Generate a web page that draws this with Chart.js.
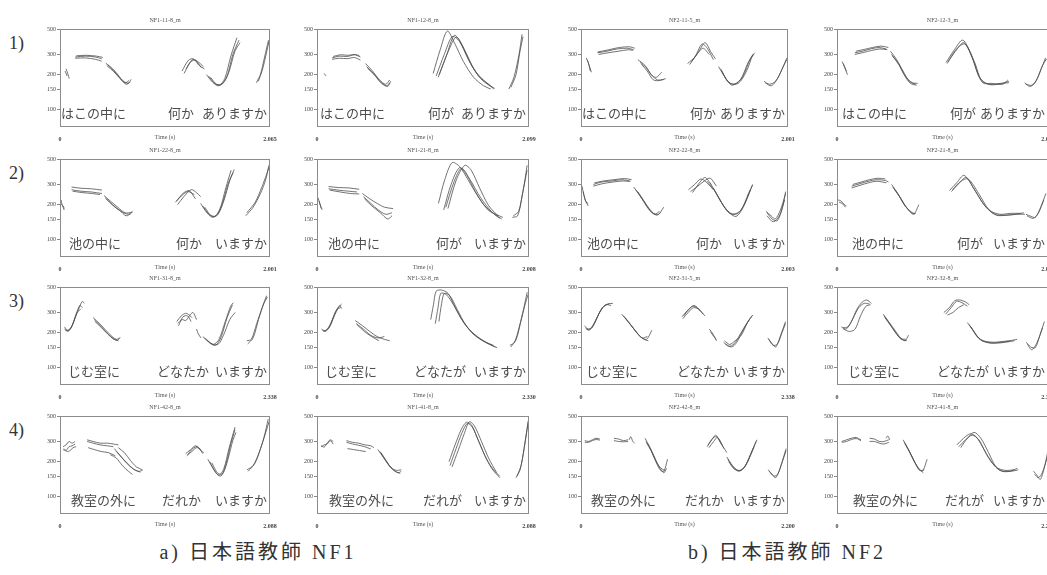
<!DOCTYPE html>
<html>
<head>
<meta charset="utf-8">
<script src="https://cdn.jsdelivr.net/npm/chart.js@4.4.1/dist/chart.umd.min.js"></script>
<style>
  body { margin: 0; width: 1047px; height: 575px; overflow: hidden; background: #fff; position: relative; }
  canvas { position: absolute; }
  .rowlab { position: absolute; left: 9px; font: 18px "Liberation Serif", serif; color: #333; line-height: 20px; }
  .cap { position: absolute; top: 540px; font: 20px "Liberation Serif", "Noto Sans CJK JP", serif; color: #333;
         letter-spacing: 3px; white-space: nowrap; transform: translateX(-50%); line-height: 24px; }
</style>
</head>
<body>
<script>
// ---- data ----
var yTicks = [100, 150, 200, 300, 500];
var rowLabels = ['1)', '2)', '3)', '4)'];
var captions = ['a) 日本語教師 NF1', 'b) 日本語教師 NF2'];

var panelTitles = [
  'NF1-11-8_m', 'NF1-12-8_m', 'NF2-11-5_m', 'NF2-12-3_m',
  'NF1-22-8_m', 'NF1-21-8_m', 'NF2-22-8_m', 'NF2-21-8_m',
  'NF1-31-8_m', 'NF1-32-8_m', 'NF2-31-5_m', 'NF2-32-8_m',
  'NF1-42-8_m', 'NF1-41-8_m', 'NF2-42-8_m', 'NF2-41-8_m'
];
var endTimes = [
  2.065, 2.099, 2.001, 2.013,
  2.001, 2.008, 2.003, 2.010,
  2.338, 2.330, 2.338, 2.330,
  2.088, 2.088, 2.200, 2.200
];
var endLabels = [
  '2.065', '2.099', '2.001', '2.013',
  '2.001', '2.008', '2.003', '2.010',
  '2.338', '2.330', '2.338', '2.330',
  '2.088', '2.088', '2.200', '2.200'
];
var phrases = [
  ['はこの中に', '何か', 'ありますか'], ['はこの中に', '何が', 'ありますか'],
  ['はこの中に', '何か', 'ありますか'], ['はこの中に', '何が', 'ありますか'],
  ['池の中に', '何か', 'いますか'], ['池の中に', '何が', 'いますか'],
  ['池の中に', '何か', 'いますか'], ['池の中に', '何が', 'いますか'],
  ['じむ室に', 'どなたか', 'いますか'], ['じむ室に', 'どなたが', 'いますか'],
  ['じむ室に', 'どなたか', 'いますか'], ['じむ室に', 'どなたが', 'いますか'],
  ['教室の外に', 'だれか', 'いますか'], ['教室の外に', 'だれが', 'いますか'],
  ['教室の外に', 'だれか', 'いますか'], ['教室の外に', 'だれが', 'いますか']
];

// pitch contours: each curve is [time (s), F0 (Hz), time, F0, ...]
var nf1_11 = [
  [0.06,225, 0.08,200, 0.09,185],
  [0.05,215, 0.07,195],
  [0.15,285, 0.25,290, 0.35,285, 0.41,275],
  [0.15,278, 0.25,280, 0.35,272, 0.41,262],
  [0.16,292, 0.26,295, 0.36,290, 0.42,283],
  [0.45,252, 0.52,222, 0.58,192, 0.64,170, 0.68,178],
  [0.46,240, 0.53,212, 0.59,185, 0.65,165, 0.69,172],
  [0.47,245, 0.55,210, 0.61,180, 0.67,168, 0.70,182],
  [1.20,215, 1.26,265, 1.31,275, 1.37,240, 1.42,225],
  [1.22,205, 1.28,255, 1.33,268, 1.39,230],
  [1.24,225, 1.30,270, 1.35,262, 1.41,235],
  [1.44,200, 1.50,172, 1.56,160, 1.62,185, 1.68,290, 1.74,420],
  [1.46,195, 1.52,168, 1.58,162, 1.64,190, 1.70,300, 1.76,400],
  [1.48,190, 1.54,165, 1.60,168, 1.66,210, 1.72,320, 1.77,380],
  [1.93,170, 1.97,200, 2.01,280, 2.05,400],
  [1.95,175, 1.99,220, 2.03,310, 2.055,390]
];
var nf1_12 = [
  [0.07,205, 0.09,195],
  [0.15,280, 0.22,290, 0.30,288, 0.37,298, 0.43,285],
  [0.15,272, 0.22,278, 0.30,276, 0.37,282, 0.43,268],
  [0.16,288, 0.23,298, 0.31,295, 0.38,300, 0.42,292],
  [0.48,250, 0.55,215, 0.62,180, 0.68,165, 0.72,180],
  [0.49,235, 0.56,205, 0.63,172, 0.69,160, 0.72,170],
  [0.50,228, 0.57,198, 0.64,168, 0.70,158, 0.73,175],
  [1.15,205, 1.22,330, 1.29,480, 1.36,380, 1.45,260, 1.55,190, 1.65,160, 1.72,150],
  [1.18,195, 1.26,300, 1.34,430, 1.41,390, 1.50,270, 1.60,195, 1.70,165, 1.75,150],
  [1.20,190, 1.28,290, 1.36,440, 1.43,370, 1.52,250, 1.62,185, 1.72,158, 1.76,152],
  [1.21,200, 1.30,320, 1.38,425, 1.46,330, 1.56,220, 1.66,175, 1.74,155],
  [1.90,150, 1.95,190, 2.00,300, 2.03,450],
  [1.92,155, 1.97,200, 2.01,320, 2.04,430]
];
var nf2_11 = [
  [0.05,280, 0.07,255, 0.09,215],
  [0.06,270, 0.08,240, 0.10,210],
  [0.16,310, 0.25,320, 0.35,335, 0.45,340, 0.51,330],
  [0.17,300, 0.26,310, 0.36,320, 0.46,330, 0.50,325],
  [0.16,315, 0.27,330, 0.37,345, 0.47,350, 0.52,340],
  [0.55,270, 0.62,240, 0.68,200, 0.74,180, 0.80,182],
  [0.57,260, 0.63,230, 0.69,195, 0.73,190, 0.78,210],
  [0.58,250, 0.64,215, 0.70,180, 0.76,178, 0.82,185],
  [1.03,250, 1.10,285, 1.17,370, 1.22,340, 1.28,270],
  [1.05,245, 1.12,300, 1.18,340, 1.24,300],
  [1.07,260, 1.14,320, 1.20,380, 1.26,310, 1.30,275],
  [1.33,235, 1.40,185, 1.46,162, 1.54,180, 1.62,260, 1.67,300],
  [1.35,225, 1.42,175, 1.48,165, 1.56,190, 1.64,280, 1.68,310],
  [1.36,215, 1.43,170, 1.52,168, 1.60,215, 1.66,300],
  [1.77,175, 1.82,165, 1.88,175, 1.94,220, 1.99,280],
  [1.78,170, 1.84,160, 1.90,185, 1.96,240, 1.99,270]
];
var nf2_12 = [
  [0.05,260, 0.07,235, 0.10,200],
  [0.06,250, 0.09,215],
  [0.17,310, 0.24,320, 0.32,335, 0.40,345, 0.47,335],
  [0.17,300, 0.25,312, 0.33,325, 0.41,335, 0.48,330],
  [0.18,320, 0.26,332, 0.34,345, 0.42,355, 0.49,345],
  [0.51,320, 0.57,270, 0.63,215, 0.69,175, 0.75,165],
  [0.52,300, 0.58,255, 0.64,200, 0.70,168, 0.76,162],
  [0.53,290, 0.59,245, 0.66,190, 0.72,170, 0.77,168],
  [1.04,255, 1.12,330, 1.20,400, 1.28,300, 1.36,190, 1.44,165, 1.54,165, 1.64,175],
  [1.05,250, 1.13,320, 1.21,380, 1.29,280, 1.37,180, 1.46,165, 1.56,168, 1.64,170],
  [1.06,260, 1.14,335, 1.22,370, 1.31,260, 1.39,170, 1.48,168, 1.58,165, 1.63,180],
  [1.79,170, 1.84,158, 1.89,170, 1.94,215, 1.99,280],
  [1.80,165, 1.86,162, 1.91,185, 1.96,240, 2.00,275]
];
var nf1_22 = [
  [0.01,220, 0.02,200, 0.04,180],
  [0.00,205, 0.03,195, 0.04,185],
  [0.11,285, 0.20,278, 0.30,275, 0.40,268],
  [0.11,270, 0.20,262, 0.30,258, 0.40,250],
  [0.12,262, 0.21,255, 0.31,250, 0.38,245],
  [0.42,240, 0.48,215, 0.55,190, 0.62,170, 0.69,172],
  [0.43,230, 0.50,200, 0.57,178, 0.63,160, 0.68,168],
  [0.44,225, 0.51,195, 0.58,175, 0.65,165, 0.69,175],
  [1.10,210, 1.16,240, 1.22,260, 1.28,245],
  [1.12,200, 1.18,235, 1.25,270, 1.30,255, 1.34,235],
  [1.11,215, 1.17,250, 1.23,265, 1.29,225],
  [1.34,205, 1.40,170, 1.46,155, 1.52,180, 1.58,280, 1.63,400],
  [1.36,195, 1.42,165, 1.48,158, 1.54,195, 1.60,300, 1.66,405],
  [1.38,190, 1.44,160, 1.50,162, 1.56,215, 1.62,330, 1.65,380],
  [1.77,160, 1.84,190, 1.91,250, 1.96,330, 1.99,440],
  [1.78,170, 1.86,210, 1.92,280, 1.97,370, 1.99,420]
];
var nf1_21 = [
  [0.01,230, 0.03,200, 0.05,180],
  [0.02,215, 0.04,185],
  [0.11,288, 0.20,282, 0.30,280, 0.40,272],
  [0.11,275, 0.20,268, 0.30,262, 0.38,258],
  [0.12,268, 0.22,258, 0.32,250, 0.40,248],
  [0.43,250, 0.50,225, 0.57,205, 0.64,190, 0.72,185],
  [0.44,235, 0.51,205, 0.58,180, 0.65,165, 0.71,170],
  [0.45,225, 0.52,195, 0.60,170, 0.67,150, 0.71,160],
  [1.15,205, 1.21,330, 1.28,465, 1.35,430, 1.43,330, 1.52,240, 1.62,180, 1.72,160],
  [1.20,180, 1.27,300, 1.35,420, 1.42,360, 1.50,260, 1.58,200, 1.68,165, 1.75,150],
  [1.24,185, 1.32,330, 1.40,440, 1.46,400, 1.54,280, 1.62,200, 1.70,165, 1.76,155],
  [1.22,190, 1.30,320, 1.37,415, 1.45,330, 1.55,230, 1.65,175, 1.73,152],
  [1.85,155, 1.90,160, 1.94,230, 1.97,330, 1.99,440],
  [1.86,160, 1.91,175, 1.95,260, 1.99,400]
];
var nf2_22 = [
  [0.01,290, 0.03,240, 0.05,210, 0.07,205],
  [0.02,260, 0.04,220, 0.07,195],
  [0.12,300, 0.20,315, 0.30,322, 0.40,330, 0.48,320],
  [0.12,290, 0.21,305, 0.31,315, 0.41,322, 0.47,318],
  [0.13,310, 0.22,322, 0.32,330, 0.42,338, 0.49,330],
  [0.51,285, 0.57,240, 0.63,200, 0.69,170, 0.75,165, 0.80,190],
  [0.53,270, 0.59,225, 0.65,185, 0.71,165, 0.76,175],
  [0.55,260, 0.61,215, 0.67,180, 0.73,162, 0.77,170],
  [1.04,270, 1.10,300, 1.16,335, 1.22,310, 1.28,270],
  [1.06,260, 1.12,285, 1.19,320, 1.25,340, 1.31,290],
  [1.08,255, 1.14,305, 1.20,345, 1.26,300],
  [1.22,320, 1.30,260, 1.38,195, 1.44,168, 1.52,168, 1.60,220, 1.66,300],
  [1.25,310, 1.32,240, 1.40,185, 1.47,165, 1.55,180, 1.62,250, 1.66,295],
  [1.28,280, 1.35,215, 1.42,175, 1.50,158, 1.57,190, 1.64,270],
  [1.79,175, 1.84,160, 1.88,150, 1.93,180, 1.98,250],
  [1.80,170, 1.85,150, 1.90,145, 1.95,190, 1.98,260],
  [1.80,160, 1.86,142, 1.92,160, 1.97,220]
];
var nf2_21 = [
  [0.01,220, 0.04,215, 0.07,200, 0.09,195],
  [0.02,210, 0.05,205, 0.08,190],
  [0.14,290, 0.22,305, 0.30,320, 0.38,330, 0.46,325, 0.49,315],
  [0.14,280, 0.22,295, 0.30,310, 0.38,320, 0.47,310],
  [0.15,300, 0.23,315, 0.31,330, 0.39,340, 0.46,335],
  [0.52,300, 0.58,250, 0.64,200, 0.70,175, 0.74,165],
  [0.53,285, 0.59,240, 0.65,195, 0.71,170, 0.75,168],
  [0.55,270, 0.61,225, 0.67,185, 0.73,165, 0.78,200],
  [1.07,265, 1.14,310, 1.21,360, 1.30,280, 1.40,200, 1.50,165, 1.60,162, 1.70,165, 1.78,170],
  [1.09,260, 1.16,305, 1.23,345, 1.32,260, 1.42,190, 1.52,162, 1.62,162, 1.72,165, 1.79,165],
  [1.10,270, 1.18,320, 1.25,335, 1.35,250, 1.45,180, 1.55,165, 1.65,168, 1.75,168],
  [1.80,165, 1.85,158, 1.89,155, 1.94,190, 1.99,250],
  [1.81,160, 1.87,152, 1.92,170, 1.97,220]
];
var nf1_31 = [
  [0.05,225, 0.08,210, 0.12,220, 0.17,270, 0.22,340, 0.25,375, 0.27,360],
  [0.05,215, 0.09,205, 0.13,225, 0.18,290, 0.22,345, 0.25,330],
  [0.06,210, 0.10,210, 0.14,235, 0.19,300, 0.23,320],
  [0.37,270, 0.44,240, 0.51,210, 0.58,185, 0.63,175, 0.66,180],
  [0.38,260, 0.45,230, 0.52,200, 0.59,178, 0.64,172, 0.67,182],
  [0.39,250, 0.46,222, 0.53,195, 0.60,175, 0.65,170],
  [1.30,250, 1.35,280, 1.40,295, 1.44,285, 1.47,270],
  [1.31,240, 1.36,260, 1.40,255, 1.44,280, 1.48,300, 1.52,260],
  [1.32,230, 1.37,275, 1.42,280, 1.46,250],
  [1.52,215, 1.54,195, 1.57,180],
  [1.59,185, 1.65,168, 1.71,158, 1.77,175, 1.84,250, 1.90,340, 1.93,365],
  [1.61,180, 1.67,162, 1.73,155, 1.79,180, 1.86,270, 1.92,350],
  [1.63,175, 1.69,160, 1.76,158, 1.82,190, 1.89,260, 1.95,300],
  [2.08,170, 2.13,175, 2.19,240, 2.25,330, 2.30,420],
  [2.09,160, 2.15,180, 2.21,260, 2.27,360, 2.31,410]
];
var nf1_32 = [
  [0.05,215, 0.09,205, 0.14,225, 0.19,280, 0.24,335, 0.27,355],
  [0.06,210, 0.10,210, 0.15,240, 0.20,300, 0.25,345, 0.27,325],
  [0.07,205, 0.12,215, 0.17,260, 0.22,320, 0.26,330],
  [0.42,255, 0.50,230, 0.58,205, 0.66,185, 0.74,175, 0.80,170],
  [0.43,240, 0.51,215, 0.59,190, 0.67,180, 0.74,185],
  [0.44,235, 0.52,205, 0.60,185, 0.68,170],
  [1.25,260, 1.28,350, 1.31,460, 1.37,470, 1.44,440, 1.52,330, 1.62,240, 1.74,190, 1.86,165, 1.96,150],
  [1.30,240, 1.33,330, 1.36,440, 1.42,430, 1.50,350, 1.58,270, 1.70,200, 1.82,170, 1.94,155],
  [1.34,250, 1.37,360, 1.40,440, 1.46,420, 1.54,320, 1.64,230, 1.76,185, 1.88,160, 1.98,148],
  [2.12,155, 2.17,165, 2.22,220, 2.27,320, 2.31,450],
  [2.13,150, 2.19,175, 2.24,250, 2.29,360, 2.32,430]
];
var nf2_31 = [
  [0.04,230, 0.08,215, 0.12,220, 0.18,270, 0.24,330, 0.30,355, 0.36,360],
  [0.05,220, 0.09,210, 0.14,230, 0.20,290, 0.26,340, 0.32,358],
  [0.06,215, 0.10,215, 0.16,250, 0.22,310, 0.28,350, 0.34,345],
  [0.46,290, 0.53,250, 0.60,215, 0.67,185, 0.74,175, 0.80,210],
  [0.48,280, 0.55,240, 0.62,205, 0.69,180, 0.75,185],
  [0.50,270, 0.57,230, 0.64,195, 0.71,175, 0.76,170],
  [1.14,275, 1.20,310, 1.26,340, 1.32,325, 1.38,290],
  [1.15,265, 1.21,300, 1.27,330, 1.33,320, 1.40,280],
  [1.16,280, 1.22,320, 1.28,345, 1.35,310],
  [1.45,215, 1.49,195, 1.53,170],
  [1.46,205, 1.50,185, 1.53,175],
  [1.61,165, 1.67,152, 1.73,160, 1.80,195, 1.87,240, 1.94,285],
  [1.62,170, 1.68,158, 1.74,170, 1.81,190, 1.88,245, 1.93,280],
  [1.63,160, 1.70,150, 1.76,165, 1.83,210, 1.90,260],
  [2.11,180, 2.16,160, 2.20,150, 2.25,185, 2.31,250],
  [2.12,175, 2.17,155, 2.22,160, 2.27,200, 2.31,240]
];
var nf2_32 = [
  [0.05,225, 0.10,215, 0.16,250, 0.22,320, 0.28,370, 0.33,385, 0.38,360],
  [0.06,220, 0.12,225, 0.18,270, 0.24,330, 0.30,360, 0.36,355],
  [0.07,215, 0.14,205, 0.20,215, 0.26,280, 0.32,340, 0.37,350],
  [0.51,290, 0.57,250, 0.63,215, 0.69,185, 0.75,170, 0.79,190],
  [0.52,280, 0.58,240, 0.64,205, 0.70,178, 0.76,175],
  [0.53,270, 0.59,232, 0.65,198, 0.71,175, 0.77,170],
  [1.18,300, 1.24,330, 1.30,380, 1.36,385, 1.42,370, 1.46,350],
  [1.20,290, 1.26,330, 1.32,375, 1.38,365, 1.44,340],
  [1.22,285, 1.28,300, 1.34,330, 1.40,350],
  [1.44,245, 1.50,210, 1.56,180, 1.64,168, 1.74,165, 1.84,168, 1.94,172, 1.99,175],
  [1.46,235, 1.52,200, 1.58,175, 1.66,165, 1.76,162, 1.86,165, 1.96,170],
  [1.48,225, 1.54,190, 1.60,170, 1.70,162, 1.80,165, 1.90,168],
  [2.09,165, 2.14,150, 2.19,148, 2.24,190, 2.29,250],
  [2.10,160, 2.15,142, 2.21,165, 2.27,220]
];
var nf1_42 = [
  [0.03,270, 0.06,280, 0.09,300, 0.12,290, 0.15,300],
  [0.03,255, 0.06,250, 0.09,270, 0.12,275, 0.15,285],
  [0.04,260, 0.07,245, 0.10,250, 0.13,265, 0.16,270],
  [0.27,310, 0.33,300, 0.40,290, 0.47,290, 0.53,285, 0.58,280],
  [0.27,300, 0.33,290, 0.40,280, 0.47,275, 0.53,270],
  [0.28,265, 0.34,255, 0.41,245, 0.48,240, 0.55,225],
  [0.54,260, 0.60,225, 0.66,195, 0.72,175, 0.78,165, 0.82,168],
  [0.56,245, 0.62,215, 0.68,190, 0.74,170, 0.80,162],
  [0.58,265, 0.64,240, 0.70,205, 0.76,180, 0.82,170],
  [0.50,230, 0.56,215, 0.62,185, 0.68,165, 0.72,155],
  [1.25,235, 1.30,255, 1.35,275, 1.40,250, 1.43,240],
  [1.26,225, 1.31,245, 1.36,265, 1.40,255],
  [1.27,230, 1.32,260, 1.37,270, 1.42,235],
  [1.47,210, 1.53,170, 1.58,152, 1.63,175, 1.68,260, 1.74,400],
  [1.49,200, 1.55,160, 1.60,150, 1.65,190, 1.70,290, 1.74,380],
  [1.51,195, 1.57,158, 1.62,158, 1.67,210, 1.72,310, 1.75,360],
  [1.86,170, 1.92,185, 1.98,240, 2.03,330, 2.07,470],
  [1.87,165, 1.94,195, 2.00,270, 2.05,370, 2.08,450]
];
var nf1_41 = [
  [0.04,270, 0.07,280, 0.10,285, 0.13,305, 0.16,285],
  [0.04,275, 0.07,268, 0.10,290, 0.13,310, 0.16,300],
  [0.29,305, 0.35,295, 0.41,290, 0.47,280, 0.53,275, 0.56,265],
  [0.29,295, 0.35,285, 0.41,278, 0.47,270, 0.53,258],
  [0.30,260, 0.36,255, 0.42,250, 0.48,245],
  [0.60,255, 0.65,220, 0.70,190, 0.75,170, 0.80,160, 0.83,165],
  [0.62,245, 0.67,210, 0.72,180, 0.77,165, 0.82,158],
  [0.63,240, 0.68,205, 0.73,178, 0.78,168, 0.83,170],
  [1.30,200, 1.36,280, 1.42,380, 1.47,440, 1.52,420, 1.58,320, 1.65,230, 1.72,175, 1.80,145],
  [1.31,185, 1.37,260, 1.43,360, 1.48,430, 1.53,400, 1.60,290, 1.67,210, 1.75,165, 1.80,150],
  [1.33,180, 1.39,250, 1.45,350, 1.50,445, 1.55,410, 1.62,300, 1.69,215, 1.77,160],
  [1.96,145, 2.00,170, 2.04,260, 2.08,450],
  [1.97,150, 2.01,185, 2.05,300, 2.085,470]
];
var nf2_42 = [
  [0.04,305, 0.08,300, 0.12,310, 0.16,320, 0.20,315],
  [0.04,295, 0.08,295, 0.12,305, 0.16,312, 0.20,308],
  [0.35,320, 0.40,315, 0.45,305, 0.50,310],
  [0.35,305, 0.40,300, 0.45,298, 0.50,300],
  [0.51,310, 0.53,330, 0.55,300, 0.57,290],
  [0.68,320, 0.73,270, 0.78,220, 0.83,180, 0.88,160, 0.91,175],
  [0.69,300, 0.74,255, 0.79,205, 0.84,170, 0.88,165, 0.92,210],
  [0.70,290, 0.75,245, 0.80,200, 0.85,175, 0.89,168],
  [1.34,270, 1.39,310, 1.43,340, 1.47,310, 1.51,270, 1.55,240],
  [1.35,280, 1.40,320, 1.44,330, 1.48,295, 1.52,260],
  [1.36,265, 1.41,300, 1.45,325, 1.50,280],
  [1.55,220, 1.61,185, 1.67,168, 1.73,175, 1.80,230, 1.87,310],
  [1.56,210, 1.62,178, 1.68,165, 1.75,185, 1.82,250, 1.86,300],
  [1.57,200, 1.63,172, 1.70,168, 1.77,200, 1.84,270],
  [1.99,170, 2.03,155, 2.07,145, 2.12,180, 2.18,260],
  [2.00,165, 2.05,150, 2.09,155, 2.14,200, 2.18,250]
];
var nf2_41 = [
  [0.05,300, 0.10,310, 0.15,320, 0.20,325, 0.25,310],
  [0.05,295, 0.10,300, 0.15,312, 0.20,318, 0.25,305],
  [0.34,320, 0.39,315, 0.44,300, 0.49,300, 0.54,310],
  [0.34,300, 0.39,300, 0.44,290, 0.49,285, 0.54,295],
  [0.51,320, 0.53,335, 0.55,310],
  [0.69,310, 0.74,260, 0.79,215, 0.84,180, 0.89,165, 0.94,210],
  [0.70,295, 0.75,250, 0.80,205, 0.85,175, 0.90,160],
  [0.71,285, 0.76,240, 0.81,198, 0.86,168, 0.91,170],
  [1.25,280, 1.32,320, 1.39,350, 1.45,330, 1.54,250, 1.62,195, 1.70,168, 1.80,165, 1.88,175],
  [1.27,270, 1.34,310, 1.41,340, 1.48,310, 1.56,230, 1.64,185, 1.72,165, 1.82,165, 1.89,170],
  [1.29,265, 1.36,320, 1.43,360, 1.50,320, 1.58,240, 1.66,180, 1.75,168, 1.85,170],
  [2.05,165, 2.09,150, 2.12,140, 2.16,175, 2.20,250],
  [2.06,155, 2.10,145, 2.14,160, 2.19,215]
];

var contours = [
  nf1_11, nf1_12, nf2_11, nf2_12,
  nf1_22, nf1_21, nf2_22, nf2_21,
  nf1_31, nf1_32, nf2_31, nf2_32,
  nf1_42, nf1_41, nf2_42, nf2_41
];

// ---- layout (pixels) ----
var colLeft = [60, 317, 581, 837];
var colWidth = [210, 212, 207, 211];
var rowTop = [29, 159, 287, 416];
var boxH = 98;
var padL = 24, padT = 20, padR = 10, padB = 14;
// left offset of first phrase, left offset of middle word
var textOffsets = [
  [1, 108], [3, 111], [1, 109], [5, 113],
  [9, 116], [11, 119], [6, 115], [15, 120],
  [8, 97], [8, 97], [5, 96], [11, 100],
  [11, 102], [12, 106], [10, 104], [16, 108]
];

function toPoints(flat) {
  var pts = [];
  for (var i = 0; i < flat.length; i += 2) {
    pts.push({x: flat[i], y: flat[i + 1]});
  }
  return pts;
}

// box, title and sentence drawn on top of each panel
var panelDecor = {
  id: 'panelDecor',
  afterDraw: function(chart) {
    var o = chart.options.plugins.panelDecor;
    var a = chart.chartArea;
    var ctx = chart.ctx;
    ctx.save();
    ctx.strokeStyle = '#8c8c8c';
    ctx.lineWidth = 1;
    ctx.strokeRect(a.left + 0.5, a.top + 0.5, a.right - a.left - 1, a.bottom - a.top - 1);

    ctx.fillStyle = '#555';
    ctx.font = '6px "Liberation Serif"';
    ctx.textAlign = 'center';
    ctx.textBaseline = 'middle';
    ctx.fillText(o.title, (a.left + a.right) / 2, a.top - 9);

    var y = chart.scales.y.getPixelForValue(100) + 4;
    ctx.font = '13px "Noto Sans CJK JP"';
    ctx.fillStyle = '#4d4d4d';
    ctx.textAlign = 'left';
    ctx.fillText(o.words[0], a.left + o.off[0], y);
    ctx.fillText(o.words[1], a.left + o.off[1], y);
    ctx.textAlign = 'right';
    ctx.fillText(o.words[2], a.right - 3, y);
    ctx.restore();
  }
};

function buildPanel(p) {
  var r = Math.floor(p / 4), c = p % 4;
  var w = colWidth[c] + padL + padR;
  var h = boxH + padT + padB;
  var canvas = document.createElement('canvas');
  canvas.width = w;
  canvas.height = h;
  canvas.style.left = (colLeft[c] - padL) + 'px';
  canvas.style.top = (rowTop[r] - padT) + 'px';
  canvas.style.width = w + 'px';
  canvas.style.height = h + 'px';
  document.body.appendChild(canvas);

  var end = endTimes[p];
  var datasets = contours[p].map(function(curve) {
    return {
      data: toPoints(curve),
      borderColor: '#4f4f4f',
      borderWidth: 0.8,
      pointRadius: 0,
      fill: false,
      tension: 0.3
    };
  });

  return new Chart(canvas.getContext('2d'), {
    type: 'line',
    data: {datasets: datasets},
    plugins: [panelDecor],
    options: {
      responsive: false,
      animation: false,
      devicePixelRatio: 1,
      layout: {padding: {top: padT, right: padR, left: 0, bottom: 0}},
      plugins: {
        legend: {display: false},
        tooltip: {enabled: false},
        panelDecor: {title: panelTitles[p], words: phrases[p], off: textOffsets[p]}
      },
      scales: {
        x: {
          type: 'linear',
          min: 0,
          max: end,
          afterBuildTicks: function(s) { s.ticks = [{value: 0}, {value: end}]; },
          afterFit: function(s) { s.height = padB; },
          grid: {display: false},
          border: {display: false},
          ticks: {
            autoSkip: false,
            maxRotation: 0,
            padding: 1,
            color: '#444',
            font: {family: 'Liberation Serif', size: 6, weight: 'bold'},
            callback: function(v, i) { return i === 0 ? '0' : endLabels[p]; }
          },
          title: {
            display: true,
            text: 'Time (s)',
            color: '#555',
            padding: {top: 0, bottom: 0},
            font: {family: 'Liberation Serif', size: 6}
          }
        },
        y: {
          type: 'logarithmic',
          min: 70,
          max: 500,
          afterBuildTicks: function(s) { s.ticks = yTicks.map(function(v) { return {value: v}; }); },
          afterFit: function(s) { s.width = padL; },
          grid: {display: true, drawOnChartArea: false, drawTicks: true, tickLength: 3, color: '#888'},
          border: {display: false},
          ticks: {
            autoSkip: false,
            padding: 1,
            color: '#444',
            font: {family: 'Liberation Serif', size: 6},
            callback: function(v) { return String(v); }
          }
        }
      }
    }
  });
}

for (var p = 0; p < 16; p++) {
  buildPanel(p);
}

rowLabels.forEach(function(t, r) {
  var d = document.createElement('div');
  d.className = 'rowlab';
  d.style.top = (rowTop[r] + 4) + 'px';
  d.textContent = t;
  document.body.appendChild(d);
});

var capCenters = [258, 787];
captions.forEach(function(t, i) {
  var d = document.createElement('div');
  d.className = 'cap';
  d.style.left = capCenters[i] + 'px';
  d.textContent = t;
  document.body.appendChild(d);
});
</script>
</body>
</html>
